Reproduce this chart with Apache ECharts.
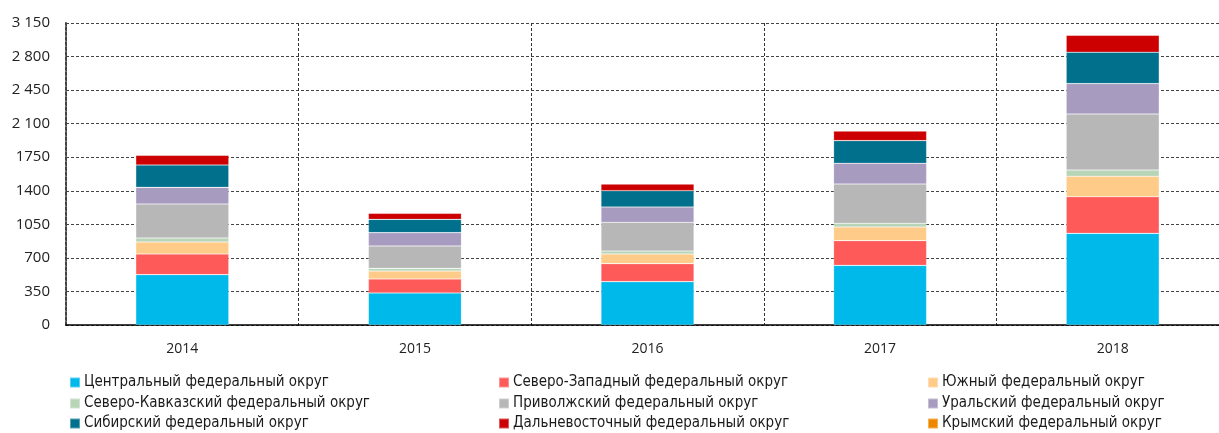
<!DOCTYPE html>
<html>
<head>
<meta charset="utf-8">
<script src="https://cdn.jsdelivr.net/npm/echarts@6/dist/echarts.min.js"></script>
<style>html,body{margin:0;padding:0;background:#fff;overflow:hidden;width:1219px;height:433px}#c{width:1229px;height:433px}</style>
</head>
<body>
<div id="c"></div>
<script>
const years = ['2014', '2015', '2016', '2017', '2018'];
const yTicks = [0, 350, 700, 1050, 1400, 1750, 2100, 2450, 2800, 3150];

const central   = [525, 334, 452, 622, 956];
const northwest = [216, 146, 188, 258, 382];
const south     = [125, 83, 101, 142, 213];
const ncaucasus = [41, 28, 31, 39, 66];
const volga     = [355, 233, 299, 410, 584];
const ural      = [174, 139, 160, 216, 317];
const siberia   = [233, 139, 170, 236, 327];
const fareast   = [101, 63, 70, 101, 177];
const crimea    = [0, 0, 0, 0, 0];

const names = [
  'Центральный федеральный округ',
  'Северо-Западный федеральный округ',
  'Южный федеральный округ',
  'Северо-Кавказский федеральный округ',
  'Приволжский федеральный округ',
  'Уральский федеральный округ',
  'Сибирский федеральный округ',
  'Дальневосточный федеральный округ',
  'Крымский федеральный округ'
];
const values = [central, northwest, south, ncaucasus, volga, ural, siberia, fareast, crimea];
const colors = ['#00B9EB', '#FF5A5A', '#FFCB88', '#B8D5B8', '#B7B7B8', '#A79BBF', '#00708C', '#CC0000', '#EE8800'];

const font = '"DejaVu Sans Condensed", "Liberation Sans Narrow", "Noto Sans", sans-serif';
const colX = [69, 498, 927];
const rowY = [375, 396, 416];

const legends = names.map((n, i) => ({
  data: [n],
  left: colX[i % 3],
  top: rowY[Math.floor(i / 3)],
  icon: 'rect',
  itemWidth: 10,
  itemHeight: 10,
  itemGap: 0,
  padding: 0,
  selectedMode: false,
  textStyle: { fontFamily: font, fontSize: 15, color: '#1a1a1a', padding: [0, 0, 0, -1] }
}));

const series = names.map((n, i) => ({
  name: n,
  type: 'bar',
  stack: 'total',
  barWidth: '40%',
  data: values[i],
  itemStyle: { color: colors[i], borderColor: 'rgba(255,255,255,0.35)', borderWidth: 0.6 },
  emphasis: { disabled: true }
}));

const chart = echarts.init(document.getElementById('c'), null, { renderer: 'canvas', width: 1229, height: 433 });
chart.setOption({
  animation: false,
  color: colors,
  legend: legends,
  grid: { left: 66, right: 0, top: 23, bottom: 108, containLabel: false },
  xAxis: {
    type: 'category',
    data: years,
    boundaryGap: true,
    axisLine: { show: true, lineStyle: { color: '#000', width: 1.5 } },
    axisTick: { show: false },
    axisLabel: { margin: 17, fontFamily: '"Open Sans", sans-serif', fontSize: 14, color: '#222' },
    splitLine: { show: true, interval: 0, lineStyle: { type: [3, 2], color: '#333', width: 1 } }
  },
  yAxis: {
    type: 'value',
    min: yTicks[0],
    max: yTicks[yTicks.length - 1],
    interval: 350,
    axisLine: { show: true, lineStyle: { type: [3, 2], color: '#444', width: 2 } },
    axisTick: { show: false },
    axisLabel: {
      margin: 16,
      fontFamily: '"Open Sans", sans-serif',
      fontSize: 15,
      color: '#222',
      formatter: v => (v >= 2000 ? String(v).replace(/\B(?=(\d{3})+(?!\d))/g, ' ') : String(v))
    },
    splitLine: { show: true, lineStyle: { type: [3, 2], color: '#444', width: 1 } }
  },
  series: series
});
</script>
</body>
</html>
